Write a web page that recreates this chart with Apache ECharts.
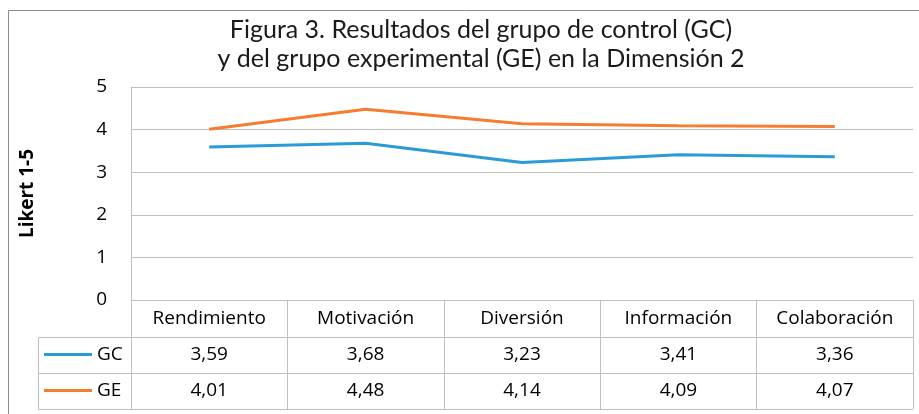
<!DOCTYPE html>
<html>
<head>
<meta charset="utf-8">
<script src="https://cdn.jsdelivr.net/npm/echarts@6/dist/echarts.min.js"></script>
<style>
	html, body { margin: 0; padding: 0; background: #fff; }
	#chart { width: 919px; height: 414px; }
</style>
</head>
<body>
<div id="chart"></div>
<script>
var categories = ['Rendimiento', 'Motivación', 'Diversión', 'Información', 'Colaboración'];
var gcValues = [3.59, 3.68, 3.23, 3.41, 3.36];
var geValues = [4.01, 4.48, 4.14, 4.09, 4.07];
var yTicks = [0, 1, 2, 3, 4, 5];

function toComma(v) {
	return v.toFixed(2).replace('.', ',');
}

var font = '"Open Sans", "Noto Sans", sans-serif';
var lineGray = '#bfbfbf';

var chart = echarts.init(document.getElementById('chart'));
var option = {
	backgroundColor: '#fff',
	animation: false,
	title: {
		text: 'Figura 3. Resultados del grupo de control (GC)\ny del grupo experimental (GE) en la Dimensión 2',
		left: 476,
		textAlign: 'center',
		top: 10,
		textStyle: {
			fontFamily: 'Lato, sans-serif',
			fontWeight: 'normal',
			fontSize: 25,
			lineHeight: 29,
			color: '#1a1a1a'
		}
	},
	legend: {
		orient: 'vertical',
		left: 44,
		top: 345,
		padding: 0,
		itemGap: 17,
		itemWidth: 48,
		itemHeight: 3,
		icon: 'rect',
		textStyle: { fontFamily: font, fontSize: 19, color: '#000' },
		data: ['GC', 'GE']
	},
	grid: {
		left: 131,
		right: 6,
		top: 87,
		bottom: 114,
		containLabel: false
	},
	xAxis: {
		type: 'category',
		data: categories,
		boundaryGap: true,
		axisLine: { lineStyle: { color: lineGray, width: 1 } },
		axisTick: {
			show: true,
			inside: false,
			length: 109,
			lineStyle: { color: lineGray, width: 1 }
		},
		axisLabel: {
			margin: 0,
			interval: 0,
			formatter: function (value, idx) {
				return '{a|' + value + '}\n{b|' + toComma(gcValues[idx]) + '}\n{c|' + toComma(geValues[idx]) + '}';
			},
			rich: {
				a: { fontFamily: font, fontSize: 19, lineHeight: 37, color: '#000' },
				b: { fontFamily: font, fontSize: 19, lineHeight: 36, color: '#000' },
				c: { fontFamily: font, fontSize: 19, lineHeight: 36, color: '#000' }
			}
		}
	},
	yAxis: {
		type: 'value',
		min: yTicks[0],
		max: yTicks[yTicks.length - 1],
		interval: 1,
		name: 'Likert 1-5',
		nameLocation: 'middle',
		nameGap: 94,
		nameTextStyle: { fontFamily: font, fontSize: 19, fontWeight: 'bold', color: '#000' },
		axisLine: { show: true, lineStyle: { color: lineGray, width: 1 } },
		axisTick: { show: false },
		axisLabel: { fontFamily: font, fontSize: 19, color: '#000', margin: 24 },
		splitLine: { lineStyle: { color: lineGray, width: 1 } }
	},
	series: [
		{
			name: 'GC',
			type: 'line',
			data: gcValues,
			symbol: 'none',
			lineStyle: { width: 3, color: '#2b9bd8' },
			itemStyle: { color: '#2b9bd8' }
		},
		{
			name: 'GE',
			type: 'line',
			data: geValues,
			symbol: 'none',
			lineStyle: { width: 3, color: '#f47d32' },
			itemStyle: { color: '#f47d32' }
		}
	],
	graphic: [
		{
			type: 'rect',
			silent: true,
			shape: { x: 8.5, y: 10.5, width: 1000, height: 1000 },
			style: { fill: 'none', stroke: '#8c8c8c', lineWidth: 1 }
		},
		{
			type: 'polyline',
			silent: true,
			shape: { points: [[913, 337.5], [38.5, 337.5], [38.5, 409.5], [913, 409.5]] },
			style: { fill: 'none', stroke: lineGray, lineWidth: 1 }
		},
		{
			type: 'line',
			silent: true,
			shape: { x1: 38.5, y1: 373.5, x2: 913, y2: 373.5 },
			style: { stroke: lineGray, lineWidth: 1 }
		}
	]
};
chart.setOption(option);
</script>
</body>
</html>
